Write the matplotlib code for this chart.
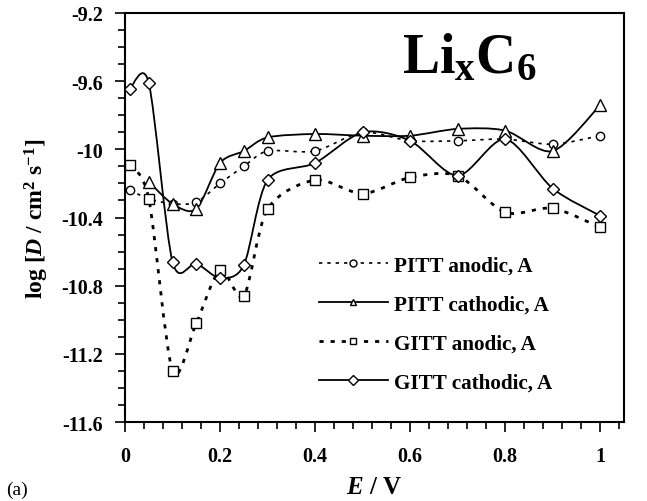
import matplotlib
matplotlib.use("Agg")
import matplotlib.pyplot as plt
import numpy as np
from matplotlib.path import Path
from matplotlib.patches import PathPatch
from matplotlib.lines import Line2D

plt.rcParams["font.family"] = ["Liberation Serif", "DejaVu Serif"]
plt.rcParams["font.weight"] = "bold"
plt.rcParams["axes.unicode_minus"] = False
plt.rcParams["mathtext.fontset"] = "custom"
plt.rcParams["mathtext.rm"] = "Liberation Serif:bold"
plt.rcParams["mathtext.it"] = "Liberation Serif:bold:italic"
plt.rcParams["mathtext.bf"] = "Liberation Serif:bold"

# potential E / V
E = [0.01, 0.05, 0.1, 0.15, 0.2, 0.25, 0.3, 0.4, 0.5, 0.6, 0.7, 0.8, 0.9, 1.0]
E_pitt_cat = [0.05, 0.1, 0.15, 0.2, 0.25, 0.3, 0.4, 0.5, 0.6, 0.7, 0.8, 0.9, 1.0]

# log D values
pitt_anodic = [-10.24, -10.29, -10.32, -10.31, -10.20, -10.10, -10.01, -10.01,
               -9.90, -9.95, -9.95, -9.94, -9.97, -9.92]
pitt_cathodic = [-10.19, -10.32, -10.35, -10.08, -10.01, -9.93, -9.91,
                 -9.92, -9.92, -9.88, -9.89, -10.01, -9.74]
gitt_anodic = [-10.09, -10.29, -11.30, -11.02, -10.71, -10.86, -10.35, -10.18,
               -10.26, -10.165, -10.155, -10.37, -10.346, -10.458]
gitt_cathodic = [-9.646, -9.61, -10.66, -10.67, -10.755, -10.68, -10.18, -10.08,
                 -9.90, -9.95, -10.155, -9.94, -10.23, -10.39]

x_ticks = [0, 0.2, 0.4, 0.6, 0.8, 1.0]
x_ticklabels = ["0", "0.2", "0.4", "0.6", "0.8", "1"]
y_ticks = [-9.2, -9.6, -10.0, -10.4, -10.8, -11.2, -11.6]
y_ticklabels = ["-9.2", "-9.6", "-10", "-10.4", "-10.8", "-11.2", "-11.6"]


def smooth_path(x, y, k=7.0):
    # Catmull-Rom style smoothing drawn as cubic Bezier segments
    pts = np.column_stack([x, y])
    ext = np.vstack([pts[0], pts, pts[-1]])
    verts = [pts[0]]
    codes = [Path.MOVETO]
    for i in range(len(pts) - 1):
        p0, p1, p2, p3 = ext[i], ext[i + 1], ext[i + 2], ext[i + 3]
        c1 = p1 + (p2 - p0) / k
        c2 = p2 - (p3 - p1) / k
        verts += [c1, c2, p2]
        codes += [Path.CURVE4] * 3
    return Path(verts, codes)


series = [
    (E, pitt_anodic, "o", 6, (0, (2, 3)), 1.2, "PITT anodic, A"),
    (E_pitt_cat, pitt_cathodic, "^", 8, "-", 1.3, "PITT cathodic, A"),
    (E, gitt_anodic, "s", 6.5, (0, (1.5, 2.5)), 2.0, "GITT anodic, A"),
    (E, gitt_cathodic, "D", 6, "-", 1.3, "GITT cathodic, A"),
]

fig = plt.figure(figsize=(6.47, 5.02), dpi=100)
ax = fig.add_axes([125 / 647, 1 - 423 / 502, 499 / 647, 409 / 502])

handles = []
for x, y, m, ms, ls, lw, lab in series:
    ax.add_patch(PathPatch(smooth_path(x, y), facecolor="none", edgecolor="black",
                           linestyle=ls, linewidth=lw, zorder=2))
    ax.plot(x, y, linestyle="none", marker=m, markersize=ms, markerfacecolor="white",
            markeredgecolor="black", markeredgewidth=1.0, zorder=3)
    handles.append(Line2D([], [], color="black", linestyle=ls, linewidth=lw, marker=m,
                          markersize=5, markerfacecolor="white",
                          markeredgecolor="black", label=lab))

ax.set_xlim(0, 1.05)
ax.set_ylim(-11.6, -9.2)
ax.set_xticks(x_ticks)
ax.set_xticklabels(x_ticklabels)
ax.set_yticks(y_ticks)
ax.set_yticklabels(y_ticklabels)
ax.set_xticks(np.arange(0, 1.041, 0.04), minor=True)
ax.set_yticks(np.arange(-11.6, -9.19, 0.1), minor=True)
ax.tick_params(which="major", direction="out", length=7, width=1.2, labelsize=14.5)
ax.tick_params(axis="x", which="major", pad=10)
ax.tick_params(axis="y", which="major", pad=9)
ax.tick_params(which="minor", direction="out", length=5, width=1.2)
for s in ax.spines.values():
    s.set_linewidth(1.5)

ax.set_xlabel(r"$\mathit{E}$ / V", fontsize=18, fontweight="bold")
ax.set_ylabel(r"log [$\mathit{D}$ / cm$^{2}$ s$^{-1}$]", fontsize=17, fontweight="bold")
ax.xaxis.set_label_coords(0.5, -0.13)
ax.yaxis.set_label_coords(-0.148, 0.5)

ax.text(0.69, 0.855, r"Li$_{\mathregular{x}}$C$_{\mathregular{6}}$", transform=ax.transAxes,
        fontsize=40, fontweight="bold", ha="center", va="baseline")

fig.legend(handles=handles, loc="upper left", bbox_to_anchor=(308 / 647, 1 - 246 / 502),
           frameon=False, handlelength=3.3, handletextpad=0.25,
           labelspacing=0.9, borderpad=0, prop={"weight": "bold", "size": 15.2})

fig.text(6 / 647, 1 - 490 / 502, "(a)", fontsize=14, fontweight="normal",
         ha="left", va="center")

fig.savefig("out.png", dpi=100)
